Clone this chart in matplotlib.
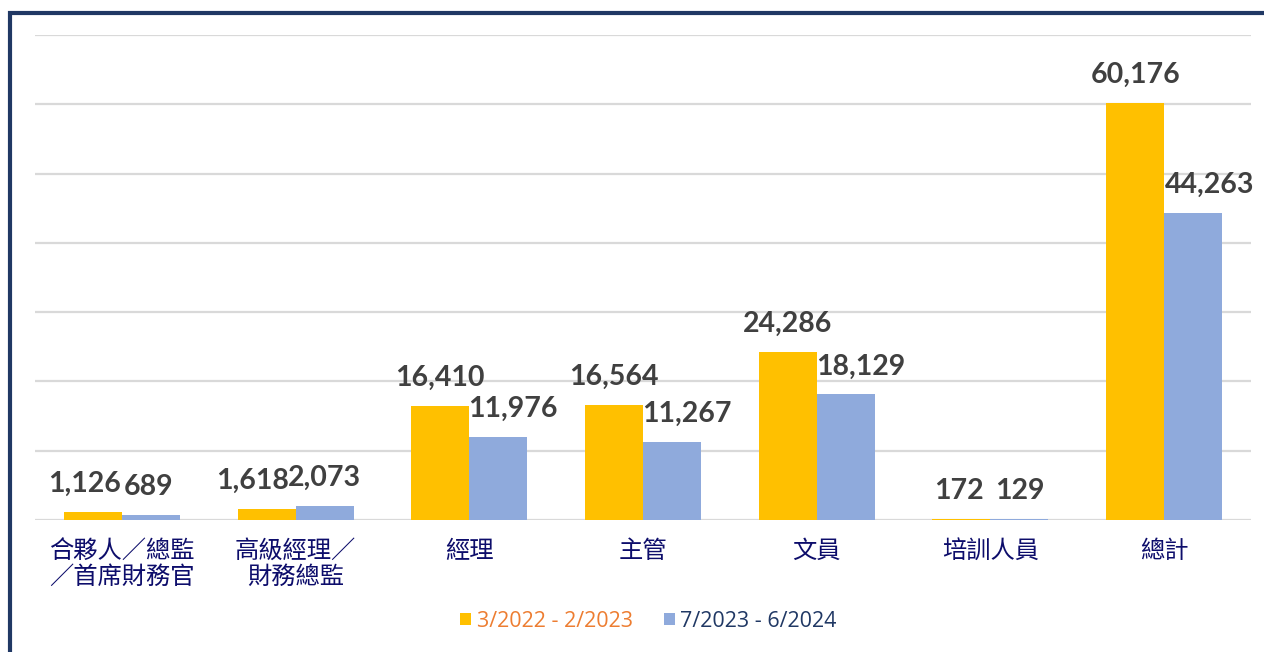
import numpy as np
import matplotlib
matplotlib.use('Agg')
import matplotlib.pyplot as plt
from matplotlib.patches import Rectangle

# 資料
categories = ['合夥人／總監\n／首席財務官', '高級經理／\n財務總監', '經理', '主管', '文員', '培訓人員', '總計']
series_names = ['3/2022 - 2/2023', '7/2023 - 6/2024']
vals_2022 = [1126, 1618, 16410, 16564, 24286, 172, 60176]
vals_2023 = [689, 2073, 11976, 11267, 18129, 129, 44263]

# 樣式
YELLOW = '#FFC000'
BLUE = '#8FAADC'
NAVY = '#203864'
LABEL_NAVY = '#0D0D6B'
VALUE_GREY = '#404040'
GRID = '#D9D9D9'

# 數值標籤的水平微調（像素），避免互相重疊
nudge_2022 = [-8, -14, 0, 0, 0, -2, 0]
nudge_2023 = [-2, 0, 15, 15, 15, 0, 17]

fig = plt.figure(figsize=(12.64, 6.52), dpi=100)
ax = fig.add_axes([35 / 1264, 1 - 520 / 652, 1216 / 1264, 485 / 652])

x = np.arange(len(categories))
w = 0.334
b1 = ax.bar(x - w / 2, vals_2022, w, color=YELLOW, label=series_names[0], zorder=3)
b2 = ax.bar(x + w / 2, vals_2023, w, color=BLUE, label=series_names[1], zorder=3)

ax.set_xlim(-0.5, len(categories) - 0.5)
ax.set_ylim(0, 70000)
ax.set_yticks(np.arange(0, 70001, 10000))
ax.yaxis.grid(True, color=GRID, linewidth=1.6, zorder=0)
ax.tick_params(axis='y', left=False, labelleft=False)
for s in ax.spines.values():
    s.set_visible(False)

ax.set_xticks(x, categories, fontsize=17.5, color=LABEL_NAVY,
              family=['Noto Sans CJK TC', 'DejaVu Sans'], linespacing=1.0)
ax.tick_params(axis='x', length=0, pad=13)

# 數值標籤
for bars, nudges in ((b1, nudge_2022), (b2, nudge_2023)):
    for rect, dx in zip(bars, nudges):
        v = rect.get_height()
        ax.annotate(f'{int(v):,}', (rect.get_x() + rect.get_width() / 2, v),
                    xytext=(dx, 20), textcoords='offset pixels',
                    ha='center', va='baseline', fontsize=20.5, fontweight='bold',
                    color=VALUE_GREY, family='Lato', zorder=4)

leg = fig.legend(loc='center', bbox_to_anchor=(0.513, 0.047), ncol=2, frameon=False,
                 prop={'family': 'Open Sans', 'size': 15.5},
                 handlelength=0.5, handleheight=0.5, handletextpad=0.25,
                 columnspacing=1.45)
for t, c in zip(leg.get_texts(), ['#ED7D31', NAVY]):
    t.set_color(c)

# 外框（左、上）
fig.patches.append(Rectangle((10 / 1264, -0.2), 1.5, 1.2 - 13 / 652,
                             transform=fig.transFigure, fill=False,
                             edgecolor=NAVY, linewidth=3, zorder=10))

fig.savefig('out.png', dpi=100)
